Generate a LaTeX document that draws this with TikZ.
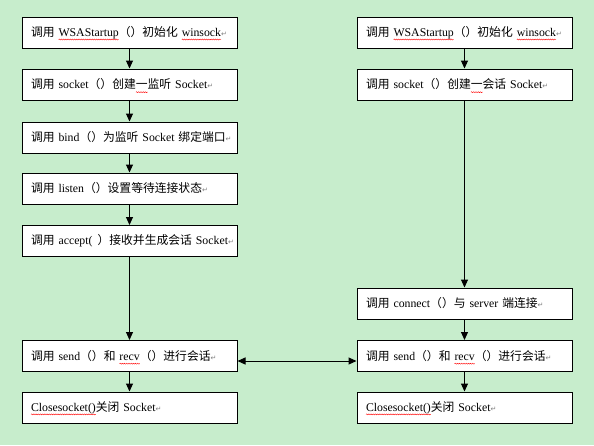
\documentclass[tikz,border=0pt]{standalone}
\usepackage{fontspec}
\setmainfont{Liberation Serif}
\newfontfamily\cjk{Noto Sans CJK SC}
\newfontfamily\dvs{DejaVu Sans}
\usetikzlibrary{arrows.meta,decorations.pathmorphing}
\definecolor{bgg}{RGB}{199,237,204}
\newcommand\zh[1]{{\cjk #1}}
\newcommand\rt{{\dvs\fontsize{7}{7}\selectfont\textcolor{gray}{↵}}}
\newsavebox\wvbox
\newcommand\wv[1]{\sbox\wvbox{#1}\rlap{\tikz[baseline=0pt]{\useasboundingbox (0pt,0pt);\draw[red,line width=0.4pt,decorate,decoration={snake,amplitude=0.5pt,segment length=2.2pt}] (0pt,-3.2pt) -- (\the\wd\wvbox,-3.2pt);}}\usebox\wvbox}
\begin{document}
\begin{tikzpicture}[x=1pt,y=-1pt,font=\fontsize{11.8}{14}\selectfont,
  box/.style={draw=black,line width=1pt,fill=white,minimum width=215pt,minimum height=31pt,text width=197pt,inner xsep=9pt,inner ysep=0pt,align=left},
  arr/.style={line width=1pt,-{Triangle[width=7pt,length=8pt]}},
  darr/.style={line width=1pt,{Triangle[width=7pt,length=8pt]}-{Triangle[width=7pt,length=8pt]}}]
\fill[bgg] (0,0) rectangle (594,445);
\useasboundingbox (0,0) rectangle (594,445);
% server side
\node[box] (l1) at (129.5,32.5) {\mbox{\zh{调用} \wv{WSAStartup}\zh{（）初始化} \wv{winsock}\rt}};
\node[box] (l2) at (129.5,84.5) {\mbox{\zh{调用} socket\zh{（）创建}\wv{\zh{一}}\zh{监听} Socket\rt}};
\node[box] (l3) at (129.5,137.5) {\mbox{\zh{调用} bind\zh{（）为监听} Socket \zh{绑定端口}\rt}};
\node[box] (l4) at (129.5,188.5) {\mbox{\zh{调用} listen\zh{（）设置等待连接状态}\rt}};
\node[box] (l5) at (129.5,241) {\mbox{\zh{调用} accept(\hspace{5pt}\zh{）接收并生成会话} Socket\rt}};
\node[box] (l6) at (129.5,356) {\mbox{\zh{调用} send\zh{（）和} \wv{recv}\zh{（）进行会话}\rt}};
\node[box] (l7) at (129.5,407.5) {\mbox{\wv{Closesocket()}\zh{关闭} Socket\rt}};
% client side
\node[box] (r1) at (464.5,32.5) {\mbox{\zh{调用} \wv{WSAStartup}\zh{（）初始化} \wv{winsock}\rt}};
\node[box] (r2) at (464.5,84.5) {\mbox{\zh{调用} socket\zh{（）创建}\wv{\zh{一}}\zh{会话} Socket\rt}};
\node[box] (r3) at (464.5,303.5) {\mbox{\zh{调用} connect\zh{（）与} server \zh{端连接}\rt}};
\node[box] (r4) at (464.5,356) {\mbox{\zh{调用} send\zh{（）和} \wv{recv}\zh{（）进行会话}\rt}};
\node[box] (r5) at (464.5,407.5) {\mbox{\wv{Closesocket()}\zh{关闭} Socket\rt}};
% connectors
\draw[arr] (l1) -- (l2);
\draw[arr] (l2) -- (l3);
\draw[arr] (l3) -- (l4);
\draw[arr] (l4) -- (l5);
\draw[arr] (l5) -- (l6);
\draw[arr] (l6) -- (l7);
\draw[arr] (r1) -- (r2);
\draw[arr] (r2) -- (r3);
\draw[arr] (r3) -- (r4);
\draw[arr] (r4) -- (r5);
\draw[darr] ([yshift=-5pt]l6.east) -- ([yshift=-5pt]r4.west);
\end{tikzpicture}
\end{document}
